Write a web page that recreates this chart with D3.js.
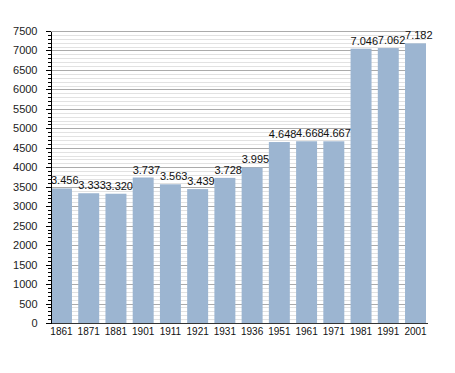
<!DOCTYPE html>
<meta charset="utf-8">
<head>
<style>
  body { margin: 0; background: #fff; }
  svg { display: block; font-family: "Liberation Sans", Arial, sans-serif; }
  .axis path, .axis line { fill: none; stroke: #000; shape-rendering: crispEdges; }
  .axis text { fill: #222; font-size: 11px; }
</style>
</head>
<body>
<script src="https://cdnjs.cloudflare.com/ajax/libs/d3/7.8.5/d3.min.js"></script>
<script>

// census years and population
const years = ["1861", "1871", "1881", "1901", "1911", "1921", "1931",
               "1936", "1951", "1961", "1971", "1981", "1991", "2001"];
const population = [3456, 3333, 3320, 3737, 3563, 3439, 3728,
                    3995, 4648, 4668, 4667, 7046, 7062, 7182];
const yMax = 7500;

const W = 455, H = 373;
const plotLeft = 50, plotRight = 426, plotTop = 31, plotBottom = 323;

const svg = d3.select("body").append("svg")
  .attr("width", W)
  .attr("height", H);

const x = d3.scaleBand()
  .domain(years)
  .range([plotLeft + 1, plotRight])
  .paddingInner(0.23)
  .paddingOuter(0);

const y = d3.scaleLinear()
  .domain([0, yMax])
  .range([plotBottom, plotTop]);

const minorVals = d3.range(0, yMax + 1, 100);
const majorVals = d3.range(0, yMax + 1, 500);

// grid lines
svg.append("g")
  .selectAll("line")
  .data(minorVals.filter(v => v % 500 !== 0))
  .join("line")
    .attr("x1", plotLeft).attr("x2", plotRight)
    .attr("y1", d => Math.round(y(d)) + 0.5)
    .attr("y2", d => Math.round(y(d)) + 0.5)
    .attr("stroke", "#e2e2e2");

svg.append("g")
  .selectAll("line")
  .data(majorVals.filter(v => v > 0))
  .join("line")
    .attr("x1", plotLeft).attr("x2", plotRight)
    .attr("y1", d => Math.round(y(d)) + 0.5)
    .attr("y2", d => Math.round(y(d)) + 0.5)
    .attr("stroke", "#ababab");

// bars
svg.append("g")
  .selectAll("rect")
  .data(population)
  .join("rect")
    .attr("x", (d, i) => x(years[i]))
    .attr("y", d => y(d))
    .attr("width", x.bandwidth())
    .attr("height", d => y(0) - y(d))
    .attr("fill", "#9cb5d1");

// value labels, italian style thousands separator
const fmt = d3.formatLocale({decimal: ",", thousands: ".", grouping: [3], currency: ["", "€"]}).format(",");
svg.append("g")
  .selectAll("text")
  .data(population)
  .join("text")
    .attr("x", (d, i) => x(years[i]))
    .attr("y", d => y(d) - 4)
    .attr("font-size", 11)
    .attr("fill", "#111")
    .text(d => fmt(d));

// bottom axis line
svg.append("line")
  .attr("x1", plotLeft).attr("x2", plotRight + 2)
  .attr("y1", plotBottom + 0.5).attr("y2", plotBottom + 0.5)
  .attr("stroke", "#333");

// y axis
svg.append("g")
  .attr("class", "axis")
  .attr("transform", `translate(${plotLeft + 0.5},0)`)
  .call(d3.axisLeft(y).tickValues(minorVals).tickSize(3).tickFormat(""))
  .call(g => g.select(".domain").remove());

svg.append("g")
  .attr("class", "axis")
  .attr("transform", `translate(${plotLeft + 0.5},0)`)
  .call(d3.axisLeft(y).tickValues(majorVals).tickFormat(d3.format("d"))
    .tickSize(5).tickPadding(8).tickSizeOuter(0));

// x labels
svg.append("g")
  .selectAll("text")
  .data(years)
  .join("text")
    .attr("x", d => x(d) + x.bandwidth() / 2)
    .attr("y", plotBottom + 12)
    .attr("text-anchor", "middle")
    .attr("font-size", 10)
    .attr("fill", "#111")
    .text(d => d);

</script>
</body>
